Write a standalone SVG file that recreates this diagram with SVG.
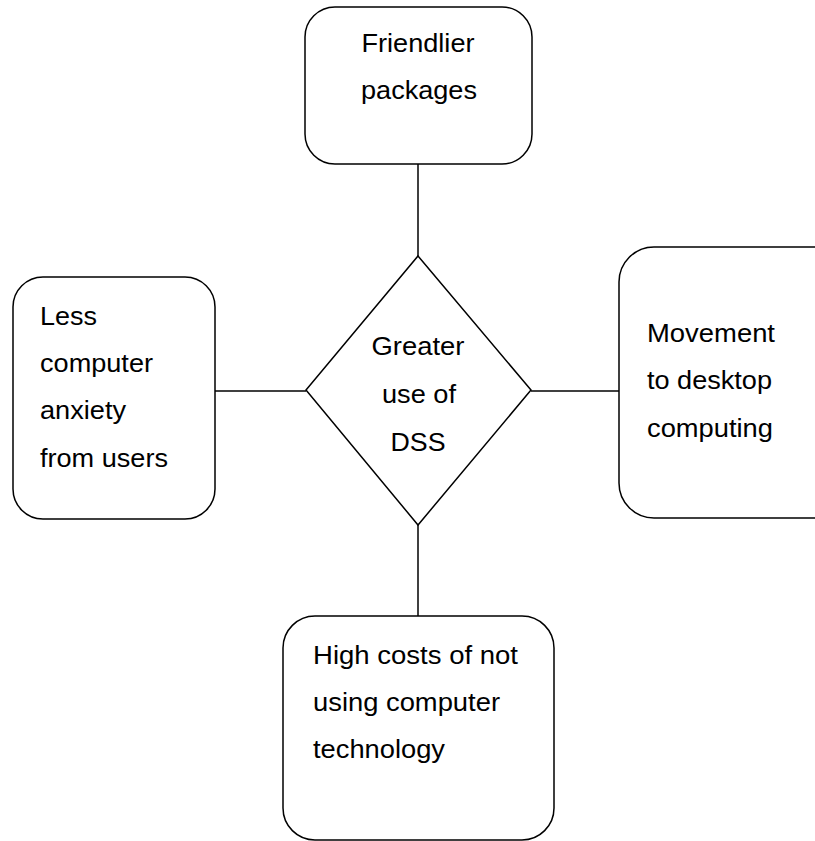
<svg xmlns="http://www.w3.org/2000/svg" width="815" height="841" viewBox="0 0 815 841">
<style>
.box{fill:#fff;stroke:#000;stroke-width:1.5}
.ln{stroke:#000;stroke-width:1.5;fill:none}
text{font-family:"Liberation Sans",Arial,sans-serif;font-size:25px;fill:#000}
.c{text-anchor:middle}
</style>
<rect width="815" height="841" fill="#fff"/>
<g id="connectors">
<line class="ln" x1="418" y1="164" x2="418" y2="256"/>
<line class="ln" x1="215" y1="391" x2="306" y2="391"/>
<line class="ln" x1="531" y1="391" x2="619" y2="391"/>
<line class="ln" x1="418" y1="525" x2="418" y2="616"/>
</g>
<g id="top">
<rect class="box" x="305" y="7" width="227" height="157" rx="30"/>
<text class="c" x="418" y="52" textLength="113" lengthAdjust="spacingAndGlyphs">Friendlier</text>
<text class="c" x="419" y="99" textLength="116" lengthAdjust="spacingAndGlyphs">packages</text>
</g>
<g id="center">
<polygon class="box" points="418,256 531,390 418,525 306,390"/>
<text class="c" x="418" y="355" textLength="93" lengthAdjust="spacingAndGlyphs">Greater</text>
<text class="c" x="419" y="403" textLength="74" lengthAdjust="spacingAndGlyphs">use of</text>
<text class="c" x="418" y="451" textLength="55" lengthAdjust="spacingAndGlyphs">DSS</text>
</g>
<g id="left">
<rect class="box" x="13" y="277" width="202" height="242" rx="30"/>
<text x="40" y="325" textLength="57" lengthAdjust="spacingAndGlyphs">Less</text>
<text x="40" y="372" textLength="113" lengthAdjust="spacingAndGlyphs">computer</text>
<text x="40" y="419" textLength="86" lengthAdjust="spacingAndGlyphs">anxiety</text>
<text x="40" y="467" textLength="128" lengthAdjust="spacingAndGlyphs">from users</text>
</g>
<g id="right">
<rect class="box" x="619" y="247" width="230" height="271" rx="35"/>
<text x="647" y="342" textLength="128" lengthAdjust="spacingAndGlyphs">Movement</text>
<text x="647" y="389" textLength="125" lengthAdjust="spacingAndGlyphs">to desktop</text>
<text x="647" y="437" textLength="126" lengthAdjust="spacingAndGlyphs">computing</text>
</g>
<g id="bottom">
<rect class="box" x="283" y="616" width="271" height="224" rx="32"/>
<text x="313" y="664" textLength="205" lengthAdjust="spacingAndGlyphs">High costs of not</text>
<text x="313" y="711" textLength="187" lengthAdjust="spacingAndGlyphs">using computer</text>
<text x="313" y="758" textLength="132" lengthAdjust="spacingAndGlyphs">technology</text>
</g>
</svg>
